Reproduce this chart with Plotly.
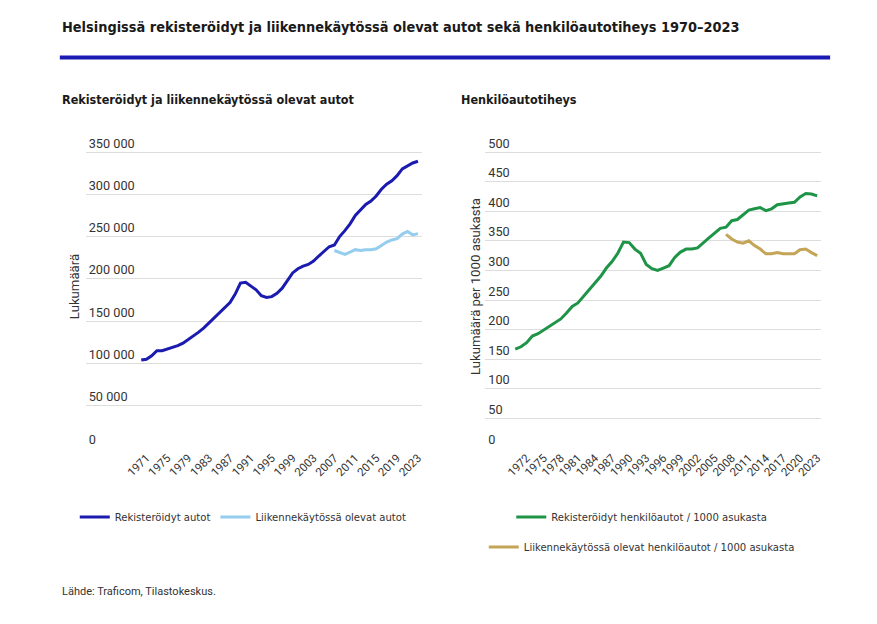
import plotly.graph_objects as go

years = list(range(1970, 2024))
years_traffic = list(range(2007, 2024))

registered_cars = [
    104000, 105000, 109000, 115000, 115000, 117000, 119000, 121000, 124000, 128000,
    133000, 137000, 142000, 148000, 154000, 159000, 165000, 172000, 182000, 195000,
    196000, 191000, 187000, 180000, 178000, 179000, 183000, 189000, 198000, 207000,
    212000, 215000, 217000, 221000, 227000, 232000, 238000, 240000, 250000, 257000,
    265000, 275000, 282000, 288000, 292000, 298000, 306000, 312000, 316000, 322000,
    330000, 334000, 337000, 339000,
]
traffic_cars = [
    233500, 231000, 229000, 231500, 234500, 233500, 234500, 234500, 235500, 239500,
    243500, 246000, 247500, 253000, 256000, 252000, 253500,
]

registered_density = [
    167, 171, 178, 189, 193, 199, 206, 211, 218, 228,
    239, 245, 256, 267, 279, 290, 304, 315, 329, 348,
    347, 336, 329, 310, 303, 300, 304, 308, 322, 331,
    336, 336, 338, 347, 355, 363, 371, 373, 384, 386,
    394, 402, 404, 406, 401, 404, 411, 413, 414, 415,
    424, 430, 429, 426,
]
traffic_density = [
    361, 353, 348, 346, 350, 342, 336, 328, 328, 330,
    328, 328, 328, 335, 336, 330, 325,
]

left_ticks = list(range(1971, 2024, 4))
right_ticks = list(range(1972, 2024, 3))
left_yticks = list(range(0, 350001, 50000))
left_yticklabels = [f"{v:,}".replace(",", " ") for v in left_yticks]
right_yticks = list(range(0, 501, 50))

title = "Helsingissä rekisteröidyt ja liikennekäytössä olevat autot sekä henkilöautotiheys 1970–2023"
sub_left = "Rekisteröidyt ja liikennekäytössä olevat autot"
sub_right = "Henkilöautotiheys"
source = "Lähde: Traficom, Tilastokeskus."

C_DARK = "#1b1bb0"
C_LIGHT = "#94cdee"
C_GREEN = "#1e9447"
C_GOLD = "#c4a557"

# page has an 8px body margin; figure sized to fit the 877x624 window
OFF = 8
W, H = 877 - 2 * OFF, 624 - 2 * OFF
def px(x):
    return (x - OFF) / W
def py(y):
    return 1 - (y - OFF) / H

NARROW = "DejaVu Sans Condensed, Roboto, sans-serif"
REG = "Roboto, Arial, sans-serif"

fig = go.Figure()
fig.add_trace(go.Scatter(x=years, y=registered_cars, mode="lines", name="Rekisteröidyt autot",
                         line=dict(color=C_DARK, width=3), xaxis="x", yaxis="y", legend="legend"))
fig.add_trace(go.Scatter(x=years_traffic, y=traffic_cars, mode="lines", name="Liikennekäytössä olevat autot",
                         line=dict(color=C_LIGHT, width=3), xaxis="x", yaxis="y", legend="legend"))
fig.add_trace(go.Scatter(x=years, y=registered_density, mode="lines",
                         name="Rekisteröidyt henkilöautot / 1000 asukasta",
                         line=dict(color=C_GREEN, width=3), xaxis="x2", yaxis="y2", legend="legend2"))
fig.add_trace(go.Scatter(x=years_traffic, y=traffic_density, mode="lines",
                         name="Liikennekäytössä olevat henkilöautot / 1000 asukasta",
                         line=dict(color=C_GOLD, width=3), xaxis="x2", yaxis="y2", legend="legend3"))

# plot area: zero gridline at y=448, top gridline at y=152, plus headroom for the top label
TOP = 125
ydom = [py(448), py(TOP)]
left_top = 350000 * (448 - TOP) / (448 - 152)
right_top = 500 * (448 - TOP) / (448 - 152)

common_x = dict(showgrid=False, zeroline=False, showline=False, ticks="", tickangle=-45,
                tickfont=dict(family=REG, size=11.5, color="#333333"))
common_y = dict(showgrid=True, gridcolor="#dddddd", gridwidth=1, zeroline=False, showline=False,
                ticks="", ticklabelposition="inside top",
                tickfont=dict(family=REG, size=12.7, color="#333333"), domain=ydom)
legfont = dict(family=NARROW, size=11.2, color="#333333")

fig.update_layout(
    width=W, height=H, margin=dict(l=0, r=0, t=0, b=0),
    paper_bgcolor="white", plot_bgcolor="white",
    xaxis=dict(domain=[px(86), px(423)], range=[1959.37, 2023.69], tickvals=left_ticks,
               anchor="y", **common_x),
    yaxis=dict(range=[0, left_top], tickvals=left_yticks, ticktext=left_yticklabels, anchor="x",
               title=dict(text="Lukumäärä", font=dict(family=REG, size=13.2, color="#333333"), standoff=6),
               **common_y),
    xaxis2=dict(domain=[px(487), px(824)], range=[1964.75, 2023.7], tickvals=right_ticks,
                anchor="y2", **common_x),
    yaxis2=dict(range=[0, right_top], tickvals=right_yticks, anchor="x2",
                title=dict(text="Lukumäärä per 1000 asukasta", font=dict(family=REG, size=13.2, color="#333333"), standoff=4),
                **common_y),
    legend=dict(orientation="h", x=px(75), y=py(517), xanchor="left", yanchor="middle",
                font=legfont, itemwidth=30, bgcolor="rgba(0,0,0,0)"),
    legend2=dict(orientation="h", x=px(644), y=py(517), xanchor="center", yanchor="middle",
                 font=legfont, itemwidth=30, bgcolor="rgba(0,0,0,0)"),
    legend3=dict(orientation="h", x=px(644), y=py(547), xanchor="center", yanchor="middle",
                 font=legfont, itemwidth=30, bgcolor="rgba(0,0,0,0)"),
    showlegend=True,
)

fig.add_shape(type="rect", xref="paper", yref="paper", x0=px(60), x1=px(833), y0=py(59.5), y1=py(55.5),
              fillcolor="#1b1bb4", line=dict(width=0))

fig.add_annotation(text=f"<b>{title}</b>", xref="paper", yref="paper", x=px(60), y=py(27),
                   xanchor="left", yanchor="middle", showarrow=False,
                   font=dict(family=NARROW, size=14.4, color="#1a1a1a"))
fig.add_annotation(text=f"<b>{sub_left}</b>", xref="paper", yref="paper", x=px(60), y=py(99),
                   xanchor="left", yanchor="middle", showarrow=False,
                   font=dict(family=NARROW, size=12.5, color="#1a1a1a"))
fig.add_annotation(text=f"<b>{sub_right}</b>", xref="paper", yref="paper", x=px(461), y=py(99),
                   xanchor="left", yanchor="middle", showarrow=False,
                   font=dict(family=NARROW, size=12.5, color="#1a1a1a"))
fig.add_annotation(text=source, xref="paper", yref="paper", x=px(60), y=py(591),
                   xanchor="left", yanchor="middle", showarrow=False,
                   font=dict(family=REG, size=11, color="#333333"))

fig.write_html("out.html")
